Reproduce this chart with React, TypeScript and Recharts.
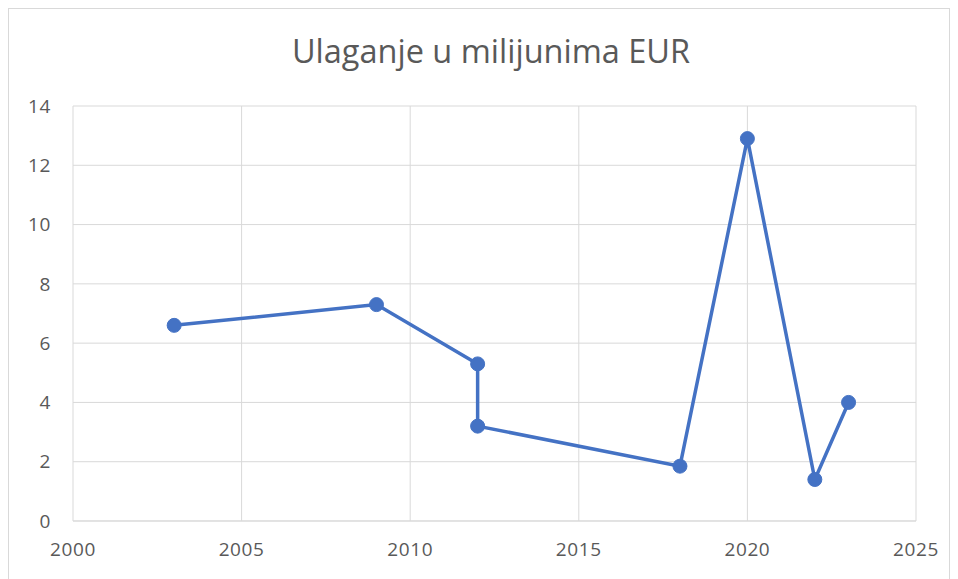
import React from 'react';
import { LineChart, Line, XAxis, YAxis, CartesianGrid } from 'recharts';

const years = [2003, 2009, 2012, 2012, 2018, 2020, 2022, 2023];
const amounts = [6.6, 7.3, 5.3, 3.2, 1.85, 12.9, 1.4, 4.0];
const xTicks = [2000, 2005, 2010, 2015, 2020, 2025];
const yTicks = [0, 2, 4, 6, 8, 10, 12, 14];

const data = years.map((year, i) => ({ year, value: amounts[i] }));

const font = '"Open Sans", "Liberation Sans", sans-serif';
const tickStyle = { fill: '#595959', fontSize: 19, fontFamily: font, letterSpacing: 0.6 };

export default function App() {
  return (
    <div
      style={{
        position: 'relative',
        width: 942,
        height: 580,
        border: '1px solid #d9d9d9',
        boxSizing: 'border-box',
        background: '#fff',
      }}
    >
      <div
        style={{
          position: 'absolute',
          left: 482,
          top: 19,
          transform: 'translateX(-50%)',
          whiteSpace: 'nowrap',
          fontFamily: font,
          fontSize: 32.5,
          color: '#595959',
        }}
      >
        Ulaganje u milijunima EUR
      </div>
      <LineChart
        width={940}
        height={569}
        data={data}
        margin={{ top: 97, right: 33, bottom: 17, left: 19 }}
      >
        <CartesianGrid stroke="#d9d9d9" strokeWidth={1} />
        <XAxis
          dataKey="year"
          type="number"
          domain={[2000, 2025]}
          ticks={xTicks}
          allowDuplicatedCategory
          height={40}
          tickSize={0}
          tickMargin={22}
          axisLine={{ stroke: '#d9d9d9' }}
          tick={tickStyle}
          interval={0}
        />
        <YAxis
          type="number"
          domain={[0, 14]}
          ticks={yTicks}
          width={45}
          tickSize={0}
          tickMargin={22}
          axisLine={false}
          tick={tickStyle}
          interval={0}
        />
        <Line
          type="linear"
          dataKey="value"
          stroke="#4472C4"
          strokeWidth={3.5}
          dot={{ r: 7, fill: '#4472C4', stroke: '#4472C4', strokeWidth: 1 }}
          isAnimationActive={false}
        />
      </LineChart>
    </div>
  );
}
